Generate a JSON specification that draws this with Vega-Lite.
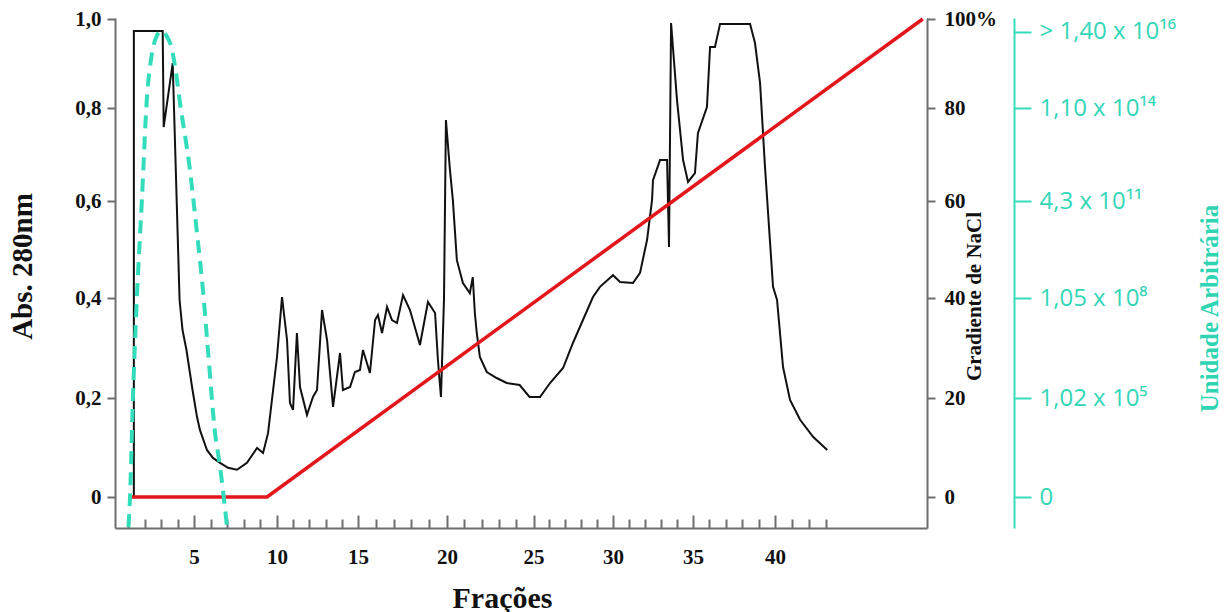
{
  "$schema": "https://vega.github.io/schema/vega-lite/v6.json",
  "width": 812,
  "height": 510,
  "autosize": {"type": "none"},
  "padding": {"left": 115, "top": 18, "right": 297, "bottom": 84},
  "background": "white",
  "config": {
    "view": {"stroke": null},
    "axis": {
      "grid": false,
      "domainColor": "#6e6e6e",
      "domainWidth": 2,
      "tickColor": "#6e6e6e",
      "tickWidth": 2,
      "labelFont": "Liberation Serif",
      "labelFontWeight": "bold",
      "labelFontSize": 21,
      "labelColor": "#111111",
      "titleFont": "Liberation Serif",
      "titleFontWeight": "bold",
      "titleColor": "#111111"
    }
  },
  "datasets": {
    "abs": [
      {"f": 1.33, "a": 0}, {"f": 1.33, "a": 0.973}, {"f": 3.09, "a": 0.973}, {"f": 3.15, "a": 0.759},
      {"f": 3.70, "a": 0.901}, {"f": 4.12, "a": 0.396}, {"f": 4.30, "a": 0.336}, {"f": 4.54, "a": 0.296},
      {"f": 4.91, "a": 0.216}, {"f": 5.18, "a": 0.162}, {"f": 5.36, "a": 0.135},
      {"f": 5.78, "a": 0.095}, {"f": 6.14, "a": 0.079}, {"f": 6.57, "a": 0.069}, {"f": 7.05, "a": 0.059},
      {"f": 7.59, "a": 0.055}, {"f": 8.19, "a": 0.069},
      {"f": 8.80, "a": 0.099}, {"f": 9.16, "a": 0.089}, {"f": 9.46, "a": 0.129}, {"f": 10.0, "a": 0.282},
      {"f": 10.31, "a": 0.402}, {"f": 10.62, "a": 0.316}, {"f": 10.8, "a": 0.19}, {"f": 10.99, "a": 0.176},
      {"f": 11.23, "a": 0.33}, {"f": 11.42, "a": 0.222}, {"f": 11.85, "a": 0.166}, {"f": 12.22, "a": 0.202},
      {"f": 12.47, "a": 0.216}, {"f": 12.78, "a": 0.376}, {"f": 13.09, "a": 0.316}, {"f": 13.46, "a": 0.182},
      {"f": 13.89, "a": 0.29}, {"f": 14.07, "a": 0.216}, {"f": 14.51, "a": 0.222}, {"f": 14.81, "a": 0.252},
      {"f": 15.11, "a": 0.256}, {"f": 15.28, "a": 0.296}, {"f": 15.67, "a": 0.25}, {"f": 15.96, "a": 0.356},
      {"f": 16.12, "a": 0.366}, {"f": 16.35, "a": 0.33}, {"f": 16.63, "a": 0.382}, {"f": 16.91, "a": 0.356},
      {"f": 17.19, "a": 0.35}, {"f": 17.53, "a": 0.406}, {"f": 17.92, "a": 0.376}, {"f": 18.48, "a": 0.306},
      {"f": 18.93, "a": 0.392}, {"f": 19.33, "a": 0.37}, {"f": 19.49, "a": 0.276}, {"f": 19.66, "a": 0.202},
      {"f": 19.83, "a": 0.396}, {"f": 19.94, "a": 0.774}, {"f": 20.17, "a": 0.667}, {"f": 20.34, "a": 0.602},
      {"f": 20.57, "a": 0.478}, {"f": 20.92, "a": 0.431}, {"f": 21.32, "a": 0.41}, {"f": 21.49, "a": 0.443},
      {"f": 21.61, "a": 0.37}, {"f": 21.72, "a": 0.33}, {"f": 21.9, "a": 0.282}, {"f": 22.3, "a": 0.252},
      {"f": 22.87, "a": 0.24}, {"f": 23.45, "a": 0.23}, {"f": 24.2, "a": 0.226}, {"f": 24.77, "a": 0.202},
      {"f": 25.41, "a": 0.202}, {"f": 26.04, "a": 0.23}, {"f": 26.86, "a": 0.26}, {"f": 27.48, "a": 0.31},
      {"f": 28.11, "a": 0.356}, {"f": 28.74, "a": 0.402}, {"f": 29.18, "a": 0.423}, {"f": 30.0, "a": 0.447},
      {"f": 30.44, "a": 0.433}, {"f": 31.25, "a": 0.431}, {"f": 31.69, "a": 0.452}, {"f": 32.13, "a": 0.52},
      {"f": 32.44, "a": 0.602}, {"f": 32.5, "a": 0.645}, {"f": 32.94, "a": 0.688}, {"f": 33.38, "a": 0.688},
      {"f": 33.5, "a": 0.505}, {"f": 33.63, "a": 0.991}, {"f": 34.0, "a": 0.818}, {"f": 34.38, "a": 0.688},
      {"f": 34.69, "a": 0.641}, {"f": 35.12, "a": 0.66}, {"f": 35.3, "a": 0.746}, {"f": 35.85, "a": 0.802},
      {"f": 36.04, "a": 0.937}, {"f": 36.34, "a": 0.937}, {"f": 36.65, "a": 0.989}, {"f": 38.48, "a": 0.989},
      {"f": 38.78, "a": 0.946}, {"f": 39.09, "a": 0.856}, {"f": 39.39, "a": 0.673}, {"f": 39.88, "a": 0.423},
      {"f": 40.12, "a": 0.396}, {"f": 40.47, "a": 0.262}, {"f": 40.88, "a": 0.196}, {"f": 41.47, "a": 0.156},
      {"f": 42.24, "a": 0.121}, {"f": 43.06, "a": 0.095}
    ],
    "nacl": [
      {"f": 1.0, "g": 0}, {"f": 9.4, "g": 0}, {"f": 48.65, "g": 100}
    ],
    "atividade": [
      {"f": 1.0, "u": -0.063}, {"f": 1.09, "u": -0.006}, {"f": 1.27, "u": 0.196}, {"f": 1.51, "u": 0.396},
      {"f": 1.82, "u": 0.602}, {"f": 2.12, "u": 0.818}, {"f": 2.42, "u": 0.919}, {"f": 2.73, "u": 0.962},
      {"f": 3.03, "u": 0.973}, {"f": 3.33, "u": 0.962}, {"f": 3.63, "u": 0.935}, {"f": 3.88, "u": 0.885},
      {"f": 4.12, "u": 0.818}, {"f": 4.73, "u": 0.673}, {"f": 5.18, "u": 0.534}, {"f": 5.54, "u": 0.416},
      {"f": 5.84, "u": 0.296}, {"f": 6.27, "u": 0.129}, {"f": 6.57, "u": 0.061}, {"f": 6.99, "u": -0.063}
    ]
  },
  "layer": [
    {
      "data": {"name": "abs"},
      "mark": {"type": "line", "color": "#111111", "strokeWidth": 2, "interpolate": "linear"},
      "encoding": {
        "x": {
          "field": "f", "type": "quantitative",
          "scale": {"type": "linear", "domain": [0.18, 5, 10, 15, 20, 25, 30, 35, 40, 48.9], "range": [0, 79, 162, 243, 332, 418.5, 498, 578, 660, 812], "nice": false, "zero": false},
          "axis": {
            "orient": "bottom", "values": [5, 10, 15, 20, 25, 30, 35, 40],
            "tickSize": -13, "labelPadding": 31, "labelOverlap": false,
            "title": "Frações", "titleFontSize": 30, "titleX": 387, "titleY": 70,
            "titleAlign": "center", "titleBaseline": "middle"
          }
        },
        "y": {
          "field": "a", "type": "quantitative",
          "scale": {"type": "linear", "domain": [-0.065, 0, 0.2, 0.4, 0.6, 0.8, 1.0, 1.003], "range": [510, 479, 380, 280, 183, 90, 1, 0], "nice": false, "zero": false},
          "axis": {
            "orient": "left", "values": [0, 0.2, 0.4, 0.6, 0.8, 1.0],
            "labelExpr": "datum.value === 0 ? '0' : replace(format(datum.value, '.1f'), '.', ',')",
            "tickSize": 8, "labelPadding": 6,
            "title": "Abs. 280nm", "titleFontSize": 29, "titleAngle": 270,
            "titleX": -93, "titleY": 248, "titleAlign": "center", "titleBaseline": "middle"
          }
        }
      }
    },
    {
      "data": {"name": "nacl"},
      "mark": {"type": "line", "color": "#e3161b", "strokeWidth": 3.5},
      "encoding": {
        "x": {
          "field": "f", "type": "quantitative",
          "scale": {"type": "linear", "domain": [0.18, 5, 10, 15, 20, 25, 30, 35, 40, 48.9], "range": [0, 79, 162, 243, 332, 418.5, 498, 578, 660, 812], "nice": false, "zero": false},
          "axis": {
            "orient": "bottom",
            "values": [1, 2, 3, 4, 6, 7, 8, 9, 11, 12, 13, 14, 16, 17, 18, 19, 21, 22, 23, 24, 26, 27, 28, 29, 31, 32, 33, 34, 36, 37, 38, 39, 41, 42, 43],
            "tickSize": -9, "labels": false, "domain": false, "title": null
          }
        },
        "y": {
          "field": "g", "type": "quantitative",
          "scale": {"type": "linear", "domain": [-6.5, 0, 20, 40, 60, 80, 100, 100.3], "range": [510, 479, 380, 280, 183, 90, 1, 0], "nice": false, "zero": false},
          "axis": {
            "orient": "right", "values": [0, 20, 40, 60, 80, 100],
            "labelExpr": "datum.value === 100 ? '100%' : datum.label",
            "tickSize": 8, "labelPadding": 9,
            "title": "Gradiente de NaCl", "titleFontSize": 21, "titleAngle": 270,
            "titleX": 47, "titleY": 278, "titleAlign": "center", "titleBaseline": "middle"
          }
        }
      }
    },
    {
      "data": {"name": "atividade"},
      "mark": {"type": "line", "color": "#33dcbb", "strokeWidth": 4, "strokeDash": [13, 8], "interpolate": "monotone"},
      "encoding": {
        "x": {
          "field": "f", "type": "quantitative",
          "scale": {"type": "linear", "domain": [0.18, 5, 10, 15, 20, 25, 30, 35, 40, 48.9], "range": [0, 79, 162, 243, 332, 418.5, 498, 578, 660, 812], "nice": false, "zero": false},
          "axis": null
        },
        "y": {
          "field": "u", "type": "quantitative",
          "scale": {"type": "linear", "domain": [-0.065, 0, 0.2, 0.4, 0.6, 0.8, 1.0, 1.003], "range": [510, 479, 380, 280, 183, 90, 1, 0], "nice": false, "zero": false},
          "axis": {
            "orient": "right", "offset": 87,
            "values": [0, 0.2, 0.4, 0.6, 0.8, 0.971],
            "labelExpr": "datum.value < 0.1 ? '0' : datum.value < 0.3 ? '1,02 x 10⁵' : datum.value < 0.5 ? '1,05 x 10⁸' : datum.value < 0.7 ? '4,3 x 10¹¹' : datum.value < 0.9 ? '1,10 x 10¹⁴' : '> 1,40 x 10¹⁶'",
            "domainColor": "#33dcbb", "tickColor": "#33dcbb", "domainWidth": 2, "tickWidth": 2, "tickSize": 17,
            "labelFont": "Open Sans", "labelFontWeight": "normal", "labelFontSize": 24, "labelColor": "#33d6b6", "labelPadding": 8,
            "title": "Unidade Arbitrária", "titleColor": "#2fd4b2", "titleFont": "Liberation Serif", "titleFontWeight": "bold", "titleFontSize": 25, "titleAngle": 270,
            "titleX": 195, "titleY": 290, "titleAlign": "center", "titleBaseline": "middle"
          }
        }
      }
    }
  ],
  "resolve": {"scale": {"y": "independent"}, "axis": {"x": "independent", "y": "independent"}}
}
